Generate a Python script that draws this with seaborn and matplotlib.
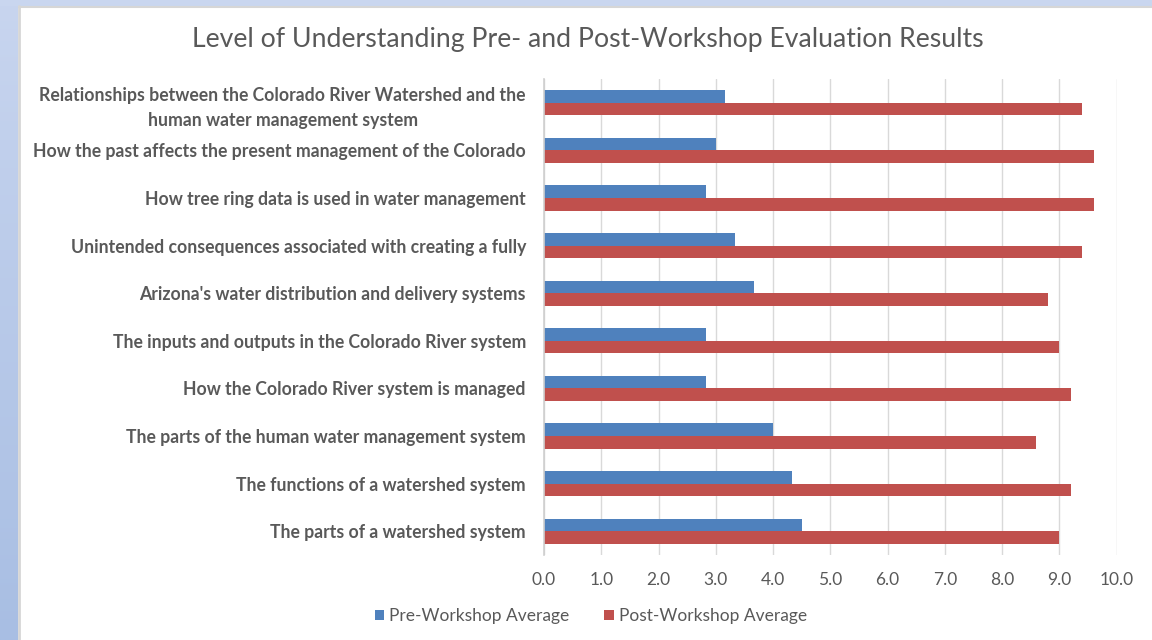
import numpy as np
import pandas as pd
import matplotlib
matplotlib.use("Agg")
import matplotlib.pyplot as plt
import seaborn as sns
from matplotlib.patches import Patch
from matplotlib.colors import LinearSegmentedColormap

categories = [
    "Relationships between the Colorado River Watershed and the\nhuman water management system",
    "How the past affects the present management of the Colorado",
    "How tree ring data is used in water management",
    "Unintended consequences associated with creating a fully",
    "Arizona's water distribution and delivery systems",
    "The inputs and outputs in the Colorado River system",
    "How the Colorado River system is managed",
    "The parts of the human water management system",
    "The functions of a watershed system",
    "The parts of a watershed system",
]
pre_avg = [3.17, 3.0, 2.83, 3.33, 3.67, 2.83, 2.83, 4.0, 4.33, 4.5]
post_avg = [9.4, 9.6, 9.6, 9.4, 8.8, 9.0, 9.2, 8.6, 9.2, 9.0]
series_names = ["Pre-Workshop Average", "Post-Workshop Average"]
x_ticks = [0, 1, 2, 3, 4, 5, 6, 7, 8, 9, 10]
title = "Level of Understanding Pre- and Post-Workshop Evaluation Results"

df = pd.DataFrame({
    "category": categories * 2,
    "value": pre_avg + post_avg,
    "series": [series_names[0]] * len(categories) + [series_names[1]] * len(categories),
})

sns.set_theme(style="white")
plt.rcParams["font.family"] = ["Lato", "DejaVu Sans"]

W, H = 1152, 640
fig = plt.figure(figsize=(W / 100, H / 100), dpi=100, facecolor="white")

# background frame (left gradient strip, top strip)
axl = fig.add_axes([0, 0, 18 / W, 1])
grad = np.linspace(0, 1, 256).reshape(-1, 1)
cm = LinearSegmentedColormap.from_list("bg", ["#c8d5ef", "#a8bee3"])
axl.imshow(grad, aspect="auto", cmap=cm, extent=[0, 1, 0, 1], origin="upper")
axl.set_axis_off()
axt = fig.add_axes([0, 1 - 6 / H, 1, 6 / H])
axt.set_facecolor("#c9d6ef")
axt.set_xticks([]); axt.set_yticks([])
for s in axt.spines.values():
    s.set_visible(False)
fig.add_artist(plt.Line2D([19 / W, 19 / W], [0, 1 - 6 / H], transform=fig.transFigure, color="#d6d6d6", lw=2))
fig.add_artist(plt.Line2D([19 / W, 1], [1 - 7 / H, 1 - 7 / H], transform=fig.transFigure, color="#d6d6d6", lw=1.5))

ax = fig.add_axes([544 / W, 1 - 555 / H, (1116.5 - 544) / W, (555 - 79) / H])
palette = {series_names[0]: "#4F81BD", series_names[1]: "#C0504D"}
sns.barplot(data=df, x="value", y="category", hue="series", hue_order=series_names,
            order=categories, palette=palette, orient="h", width=0.53,
            saturation=1, ax=ax, legend=False, linewidth=0)

ax.set_xlim(0, 10)
ax.set_ylim(len(categories) - 0.5, -0.5)
ax.set_xticks(x_ticks)
ax.set_xticklabels([f"{v:.1f}" for v in x_ticks])
ax.set_xlabel("")
ax.set_ylabel("")
ax.grid(axis="x", color="#d9d9d9", lw=1)
ax.grid(axis="y", visible=False)
ax.set_axisbelow(True)
for s in ["top", "right", "bottom"]:
    ax.spines[s].set_visible(False)
ax.spines["left"].set_color("#cfcfcf")
ax.spines["left"].set_linewidth(1.2)
ax.tick_params(axis="x", length=0, pad=12, labelsize=12.5, labelcolor="#595959")
ax.tick_params(axis="y", length=0, pad=13, labelsize=12.7, labelcolor="#595959")
for lab in ax.get_yticklabels():
    lab.set_fontweight("bold")
    lab.set_multialignment("center")
    lab.set_linespacing(1.55)

fig.text(588 / W, 1 - 40 / H, title, ha="center", va="center", fontsize=19.2, color="#595959")

handles = [Patch(facecolor=palette[n], edgecolor="none", label=n) for n in series_names]
fig.legend(handles=handles, loc="center", bbox_to_anchor=(591 / W, 1 - 616 / H), ncol=2,
           frameon=False, handlelength=0.55, handleheight=0.55, handletextpad=0.3,
           columnspacing=2.0, prop={"size": 12.5}, labelcolor="#595959")

fig.savefig("out.png", dpi=100, facecolor="white")
